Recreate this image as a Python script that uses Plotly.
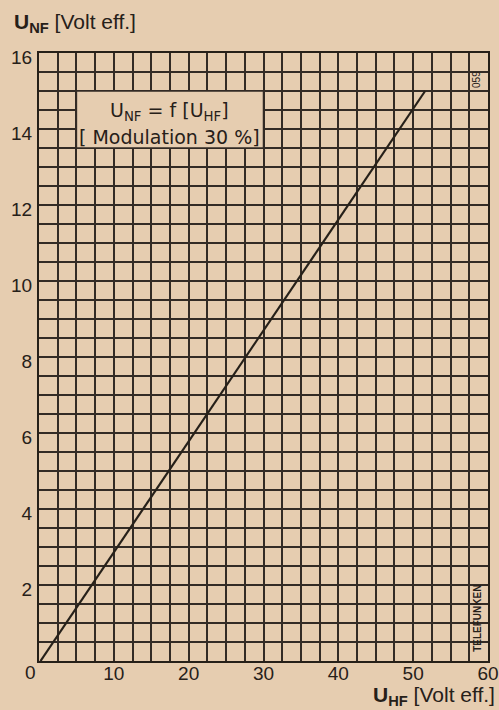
import plotly.graph_objects as go

# Data
u_hf = [0.2, 16.8, 27.5, 37.6, 51.6]
u_nf = [0.0, 4.84, 7.97, 10.9, 15.0]

x_tickvals = [10, 20, 30, 40, 50, 60]
x_ticktext = ["10", "20", "30", "40", "50", "60"]
y_tickvals = [2, 4, 6, 8, 10, 12, 14, 16]
y_ticktext = ["2", "4", "6", "8", "10", "12", "14", "16"]

PAPER = "#e6cdb0"
INK = "#262019"
GRID = "#332b25"

W, H = 499, 710
L, R, T, B = 39, 11, 53, 49
PW, PH = W - L - R, H - T - B


def px(xp):
    return (xp - L) / PW


def py(yp):
    return (H - B - yp) / PH


fig = go.Figure()
fig.add_trace(go.Scatter(x=u_hf, y=u_nf, mode="lines",
                         line=dict(color=INK, width=2.2), hoverinfo="skip",
                         showlegend=False))

axis_common = dict(showgrid=True, gridcolor=GRID, gridwidth=1.5,
                   showline=True, mirror=True, linecolor=INK, linewidth=2,
                   zeroline=False, ticks="", automargin=False,
                   tickfont=dict(family="Liberation Sans, Arial", size=19, color=INK))

fig.update_xaxes(range=[0, 60], tickvals=x_tickvals, ticktext=x_ticktext,
                 minor=dict(dtick=2.5, showgrid=True, gridcolor=GRID, gridwidth=1.5),
                 ticklabelstandoff=-6,
                 **axis_common)
fig.update_yaxes(range=[0, 16], tickvals=y_tickvals, ticktext=y_ticktext,
                 minor=dict(dtick=0.5, showgrid=True, gridcolor=GRID, gridwidth=1.5),
                 ticklabelshift=4, ticklabelstandoff=1,
                 **axis_common)

# inset box hiding grid
fig.add_shape(type="rect", x0=5, x1=30, y0=13.5, y1=15, xref="x", yref="y",
              fillcolor=PAPER, line=dict(color=GRID, width=1.5), layer="above")

font_main = "Liberation Sans, Arial"
font_box = "DejaVu Sans, Liberation Sans"
anns = [
    dict(x=17.5, y=14.45, xref="x", yref="y",
         text="U<sub>NF</sub> = f [U<sub>HF</sub>]",
         font=dict(family=font_box, size=19, color=INK), showarrow=False),
    dict(x=17.5, y=13.79, xref="x", yref="y",
         text="[ Modulation 30 %]",
         font=dict(family=font_box, size=19, color=INK), showarrow=False),
    dict(x=px(12), y=py(23), xref="paper", yref="paper", xanchor="left", yanchor="middle",
         text="<b>U</b><sub><b>NF</b></sub> [Volt eff.]",
         font=dict(family=font_main, size=21, color=INK),
         showarrow=False),
    dict(x=px(497), y=py(696), xref="paper", yref="paper", xanchor="right", yanchor="middle",
         text="<b>U</b><sub><b>HF</b></sub> [Volt eff.]",
         font=dict(family=font_main, size=21, color=INK),
         showarrow=False),
    dict(x=px(30), y=py(673), xref="paper", yref="paper", xanchor="center", yanchor="middle",
         text="0", font=dict(family=font_main, size=19, color=INK), showarrow=False),
    dict(x=58.53, y=15.29, xref="x", yref="y", text="059", textangle=-90,
         font=dict(family=font_main, size=10, color=INK), showarrow=False),
    dict(x=58.5, y=1.13, xref="x", yref="y", text="<b>TELEFUNKEN</b>", textangle=-90,
         font=dict(family=font_main, size=10, color=INK), showarrow=False),
]
fig.update_layout(width=W, height=H, margin=dict(l=L, r=R, t=T, b=B, autoexpand=False),
                  paper_bgcolor=PAPER, plot_bgcolor=PAPER, annotations=anns,
                  showlegend=False)

fig.write_html("out.html", config={"displayModeBar": False},
               post_script="document.body.style.margin='0';"
                           "document.body.style.overflow='hidden';"
                           "document.body.style.background='" + PAPER + "';")
